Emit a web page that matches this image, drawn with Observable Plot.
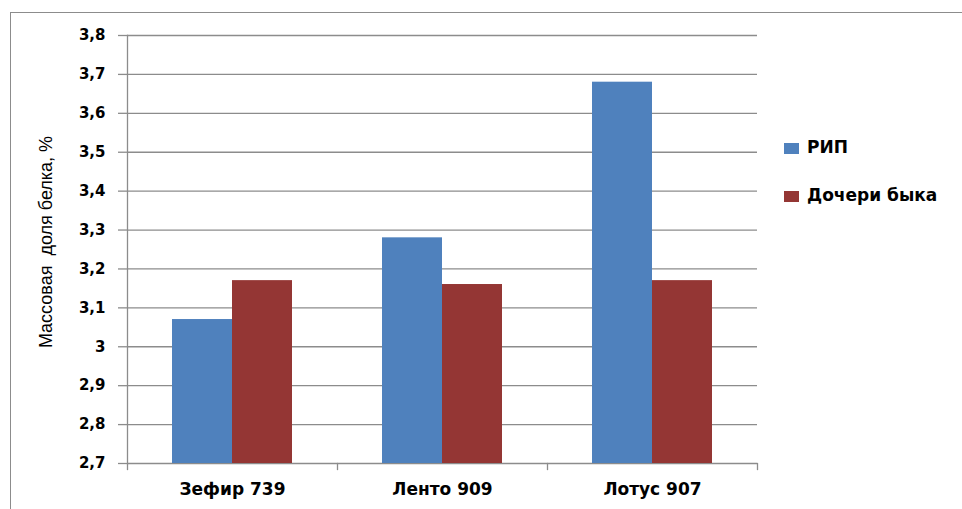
<!DOCTYPE html>
<html><head><meta charset="utf-8">
<script src="https://cdn.jsdelivr.net/npm/d3@7"></script>
<script src="https://cdn.jsdelivr.net/npm/@observablehq/plot@0.6"></script>
<style>
html,body{margin:0;padding:0;background:#fff;}
body{width:962px;height:509px;position:relative;overflow:hidden;font-family:"DejaVu Sans",Verdana,sans-serif;}
#border{position:absolute;left:10px;top:12px;width:1000px;height:600px;border:1px solid #8c8c8c;box-sizing:border-box;}
#chart{position:absolute;left:0;top:0;}
#ytitle{position:absolute;left:46px;top:242px;transform:translate(-50%,-50%) rotate(-90deg);white-space:pre;font-family:"Liberation Sans",Arial,sans-serif;font-size:18px;color:#000;}
#legend{position:absolute;left:784px;top:139px;font-weight:bold;font-size:17px;color:#000;}
.item{position:relative;height:48px;}
.sw{position:absolute;left:0;top:4px;width:15px;height:11px;}
.lbl{position:absolute;left:23px;top:-2px;white-space:nowrap;}
</style></head>
<body>
<div id="border"></div>
<div id="chart"></div>
<div id="ytitle"></div>
<div id="legend"></div>
<script>
const categories = ["Зефир 739", "Лento 909", "Лотус 907"];
categories[1] = "Ле" + "нто 909";
const series = ["РИП", "Дочери быка"];
const ripValues = [3.07, 3.28, 3.68];
const daughterValues = [3.17, 3.16, 3.17];
const yTicks = [2.7, 2.8, 2.9, 3.0, 3.1, 3.2, 3.3, 3.4, 3.5, 3.6, 3.7, 3.8];
const yTitle = "Массовая  доля белка, %";
const colors = ["#4f81bd", "#943634"];

const yMin = yTicks[0], yMax = yTicks[yTicks.length - 1];
const data = categories.flatMap((c, i) => [
  {cat: c, series: series[0], value: ripValues[i]},
  {cat: c, series: series[1], value: daughterValues[i]}
]);
const fmt = d => String(+d.toFixed(1)).replace(".", ",");
const W = 962, H = 509, mL = 127, mR = 205, mT = 35, mB = 46;
const plotH = H - mT - mB;
const grid = "#8c8c8c";

const chart = Plot.plot({
  width: W, height: H,
  marginLeft: mL, marginRight: mR, marginTop: mT, marginBottom: mB,
  style: {fontFamily: "'DejaVu Sans', Verdana, sans-serif", color: "#000", background: "transparent"},
  fx: {domain: categories, padding: 0, label: null},
  x: {domain: series, paddingInner: 0, paddingOuter: 0.75, align: 0.5, axis: null},
  y: {domain: [yMin, yMax], axis: null},
  color: {domain: series, range: colors},
  marks: [
    Plot.ruleY(yTicks, {stroke: grid, strokeWidth: 1.3}),
    Plot.barY(data, {fx: "cat", x: "series", y1: yMin, y2: "value", fill: "series"}),
    Plot.frame({anchor: "left", facetAnchor: "left", stroke: grid, strokeWidth: 1.3}),
    Plot.frame({anchor: "left", insetTop: plotH, insetBottom: -6, stroke: grid, strokeWidth: 1.3}),
    Plot.frame({anchor: "right", facetAnchor: "right", insetTop: plotH, insetBottom: -6, stroke: grid, strokeWidth: 1.3}),
    Plot.axisY(yTicks, {anchor: "left", tickSize: 9, tickPadding: 13, tickFormat: fmt, fontSize: 15, fontWeight: "bold", stroke: grid, strokeWidth: 1.3, label: null}),
    Plot.axisFx({anchor: "bottom", tickSize: 0, tickPadding: 19, fontSize: 17, fontWeight: "bold", label: null})
  ]
});
document.getElementById("chart").appendChild(chart);
document.getElementById("ytitle").textContent = yTitle;
const lg = document.getElementById("legend");
series.forEach((s, i) => {
  const it = document.createElement("div"); it.className = "item";
  const sw = document.createElement("div"); sw.className = "sw"; sw.style.background = colors[i];
  const lb = document.createElement("div"); lb.className = "lbl"; lb.textContent = s;
  it.appendChild(sw); it.appendChild(lb); lg.appendChild(it);
});
</script>
</body></html>
